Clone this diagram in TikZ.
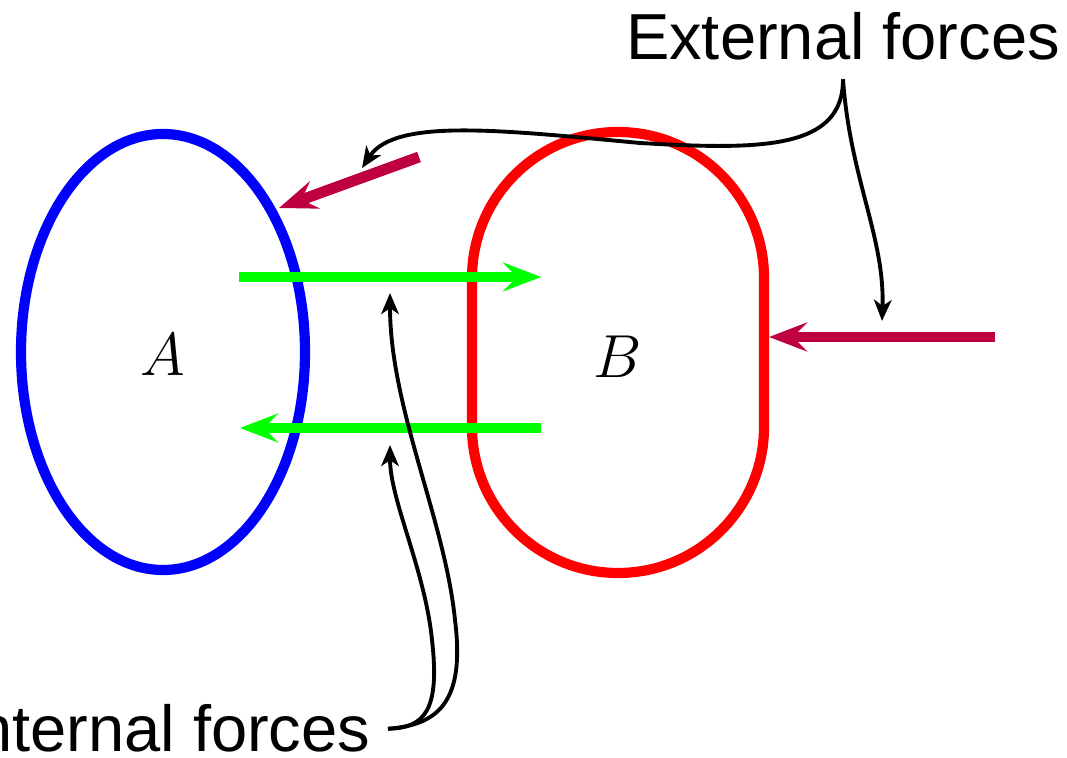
\documentclass[tikz,border=0pt]{standalone}
\usepackage{fontspec}
\newfontfamily\forcefont{Liberation Sans}
\usetikzlibrary{arrows.meta}

\definecolor{bodyblue}{RGB}{0,0,255}
\definecolor{bodyred}{RGB}{255,0,0}
\definecolor{inforce}{RGB}{0,255,0}
\definecolor{exforce}{RGB}{191,0,64}

\tikzset{
  body/.style={line width=2.9pt},
  force/.style={line width=3.1pt, -{Stealth[length=10.8pt,width=8.2pt,inset=4pt]}},
  pointer/.style={line width=1.1pt, -{Stealth[length=6pt,width=5pt,inset=1.7pt]}},
  caption/.style={font=\forcefont\fontsize{18.5}{22}\selectfont, inner xsep=0pt, inner ysep=0.18cm},
}

\begin{document}
\begin{tikzpicture}[x=0.01cm, y=0.01cm]
    \useasboundingbox (0,0) rectangle (1067,758);
    \clip (0,0) rectangle (1067,758);

    % the two bodies
    \draw[body, bodyblue] (163,406) ellipse [x radius=142, y radius=218];
    \draw[body, bodyred] (472,331) -- (472,480)
        arc[start angle=180, end angle=0, radius=146] -- (764,331)
        arc[start angle=0, end angle=-180, radius=146] -- cycle;

    \node[font=\fontsize{16.6}{20}\selectfont] (A) at (163,403) {$A$};
    \node[font=\fontsize{16.6}{20}\selectfont] (B) at (618,401) {$B$};

    % internal forces
    \coordinate (inAB) at (239,481);
    \coordinate (inABtip) at (541,481);
    \coordinate (inBA) at (541,330);
    \coordinate (inBAtip) at (240,330);
    \draw[force, inforce] (inAB) -- (inABtip);
    \draw[force, inforce] (inBA) -- (inBAtip);

    % external forces
    \coordinate (exA) at (419,601);
    \coordinate (exAtip) at (279,550);
    \coordinate (exB) at (995,421);
    \coordinate (exBtip) at (769,421);
    \draw[force, exforce] (exA) -- (exAtip);
    \draw[force, exforce] (exB) -- (exBtip);

    % captions
    \node[caption, anchor=base] (ext) at (843,698) {External forces};
    \node[caption, inner xsep=0.17cm, anchor=base east] (int) at (388,6) {Internal forces};

    \coordinate (extA) at (362,590);
    \coordinate (extB) at (882,437);
    \coordinate (intAB) at (390,465);
    \coordinate (intBA) at (390,313);

    \draw[pointer] (ext.south) .. controls (843,608) and (760,608) .. (640,615)
        .. controls (500,628) and (395,640) .. (extA);
    \draw[pointer] (ext.south) .. controls (850,580) and (885,520) .. (extB);
    \draw[pointer] (int.east) .. controls (440,33) and (465,58) .. (455,138)
        .. controls (445,238) and (390,350) .. (intAB);
    \draw[pointer] (int.east) .. controls (425,30) and (440,48) .. (432,118)
        .. controls (425,188) and (390,258) .. (intBA);
\end{tikzpicture}
\end{document}
